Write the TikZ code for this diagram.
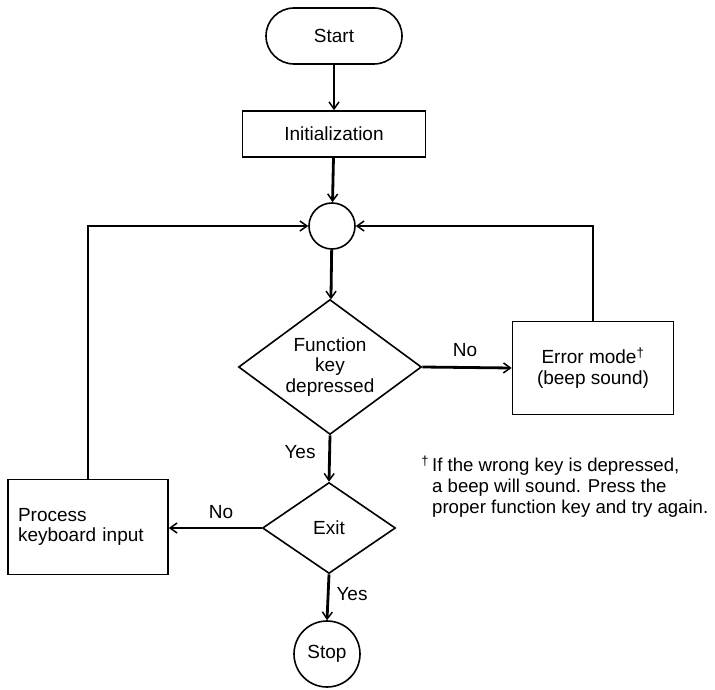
\documentclass[tikz,border=0pt]{standalone}
\usepackage{fontspec}
\setmainfont{Liberation Sans}
\usetikzlibrary{shapes.geometric,arrows.meta}
\begin{document}
\begin{tikzpicture}[x=1pt,y=-1pt,
  every node/.style={font=\fontsize{19}{20.8}\selectfont},
  outline/.style={draw,line width=1.6pt},
  term/.style={outline,rectangle,rounded corners=28pt,minimum width=136pt,minimum height=56pt},
  procbox/.style={outline,rectangle},
  decision/.style={outline,diamond,inner sep=0pt,align=center},
  joint/.style={outline,circle,minimum size=46pt,inner sep=0pt},
  flow/.style={line width=2.8pt,-{Straight Barb[length=7pt,width=10pt,line width=1.5pt]}},
  lbl/.style={inner sep=1pt}]
\useasboundingbox (0,0) rectangle (715,690);

% main column
\node[term] (start) at (334,36) {Start};
\node[procbox,minimum width=183pt,minimum height=46pt] (init) at (334,134) {Initialization};
\node[joint] (join) at (332,226) {};
\node[decision,shape aspect=1.36,minimum width=183pt,minimum height=135pt] (fkey) at (330,367)
  {Function\\key\\depressed};
\node[procbox,minimum width=161pt,minimum height=93pt,align=center] (err) at (593,368)
  {Error mode\textsuperscript{†}\\(beep sound)};
\node[decision,shape aspect=1.46,minimum width=133pt,minimum height=91pt] (exit) at (329,528) {Exit};
\node[procbox,minimum width=160pt,minimum height=95pt,text width=140pt,inner xsep=10pt,align=left]
  (proc) at (88,527) {Process\\keyboard input};
\node[outline,circle,minimum size=66pt,inner sep=0pt] (stop) at (327,654) {Stop};

% footnote
\node[anchor=north west,align=left,inner sep=0pt,font=\fontsize{18.6}{21}\selectfont] (note) at (432,456)
  {\llap{\textsuperscript{†}\,}If the wrong key is depressed,\\a beep will sound. Press the\\proper function key and try again.};

% connectors
\draw[flow] (start) -- (init);
\draw[flow] (init) -- (join);
\draw[flow] (join) -- (fkey);
\draw[flow] (fkey.east) -- (err.west);
\draw[flow] (err.north) |- (join.east);
\draw[flow] (fkey.south) -- (exit.north);
\draw[flow] (exit.west) -- (exit.west -| proc.east);
\draw[flow] (proc.north) |- (join.west);
\draw[flow] (exit.south) -- (stop.north);

% branch labels
\node[lbl] (noA) at (465,350) {No};
\node[lbl] (yesA) at (300,452) {Yes};
\node[lbl] (noB) at (221,512) {No};
\node[lbl] (yesB) at (352,594) {Yes};
\end{tikzpicture}
\end{document}
